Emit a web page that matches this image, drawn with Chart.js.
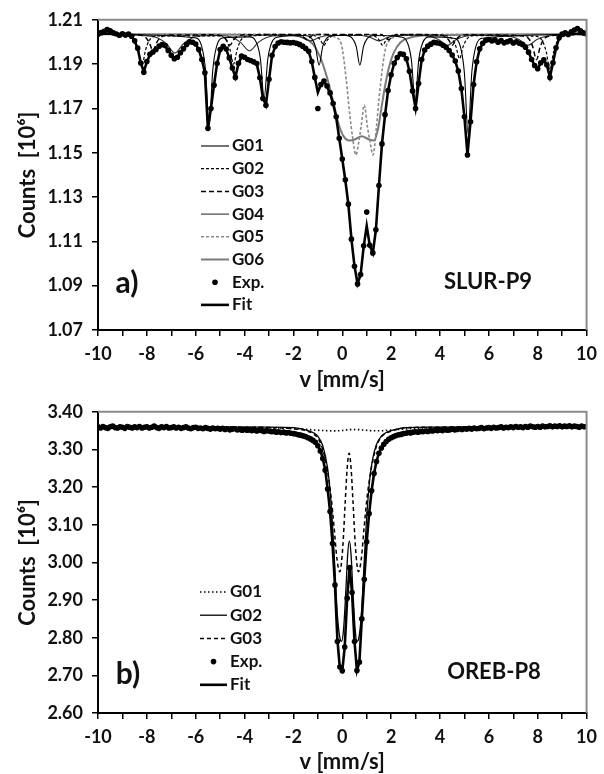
<!DOCTYPE html>
<html><head><meta charset="utf-8">
<script src="https://cdn.jsdelivr.net/npm/chart.js@4.4.0/dist/chart.umd.min.js"></script>
<style>
html,body{margin:0;padding:0;background:#fff;}
#wrap{position:relative;width:604px;height:774px;overflow:hidden;}
canvas{position:absolute;left:0;}
#ca{top:0;width:604px;height:392px;}
#cb{top:392px;width:604px;height:382px;}
</style></head><body>
<div id="wrap"><canvas id="ca" width="604" height="392"></canvas><canvas id="cb" width="604" height="382"></canvas></div>
<script>
// ---------- Panel a) SLUR-P9 ----------
const aVel = [-10,-9.875,-9.75,-9.625,-9.5,-9.375,-9.25,-9.125,
-9,-8.875,-8.75,-8.625,-8.5,-8.375,-8.25,-8.125,
-8,-7.875,-7.75,-7.625,-7.5,-7.375,-7.25,-7.125,
-7,-6.875,-6.75,-6.625,-6.5,-6.375,-6.25,-6.125,
-6,-5.875,-5.75,-5.625,-5.5,-5.375,-5.25,-5.125,
-5,-4.875,-4.75,-4.625,-4.5,-4.375,-4.25,-4.125,
-4,-3.875,-3.75,-3.625,-3.5,-3.375,-3.25,-3.125,
-3,-2.875,-2.75,-2.625,-2.5,-2.375,-2.25,-2.125,
-2,-1.875,-1.75,-1.625,-1.5,-1.375,-1.25,-1.125,
-1,-0.875,-0.75,-0.625,-0.5,-0.375,-0.25,-0.125,
0,0.125,0.25,0.375,0.5,0.625,0.75,0.875,
1,1.125,1.25,1.375,1.5,1.625,1.75,1.875,
2,2.125,2.25,2.375,2.5,2.625,2.75,2.875,
3,3.125,3.25,3.375,3.5,3.625,3.75,3.875,
4,4.125,4.25,4.375,4.5,4.625,4.75,4.875,
5,5.125,5.25,5.375,5.5,5.625,5.75,5.875,
6,6.125,6.25,6.375,6.5,6.625,6.75,6.875,
7,7.125,7.25,7.375,7.5,7.625,7.75,7.875,
8,8.125,8.25,8.375,8.5,8.625,8.75,8.875,
9,9.125,9.25,9.375,9.5,9.625,9.75,9.875,
10];
const aExp = [1.2035,1.2042,1.2048,1.2056,1.2050,1.2041,1.2036,1.2030,
1.2037,1.2031,1.2036,1.2026,1.2005,1.1972,1.1905,1.1863,
1.1912,1.1944,1.1955,1.1966,1.1981,1.1988,1.1984,1.1962,
1.1940,1.1924,1.1931,1.1951,1.1969,1.1989,1.2001,1.1999,
1.1991,1.1966,1.1921,1.1861,1.1610,1.1700,1.1805,1.1903,
1.1966,1.1980,1.1968,1.1928,1.1882,1.1840,1.1904,1.1936,
1.1931,1.1921,1.1916,1.1910,1.1903,1.1838,1.1745,1.1714,
1.1832,1.1940,1.1979,1.1995,1.2001,1.1999,1.1998,1.1996,
1.1997,1.1994,1.1989,1.1981,1.1971,1.1958,1.1912,1.1840,
1.1700,1.1808,1.1824,1.1801,1.1770,1.1722,1.1662,1.1565,
1.1472,1.1378,1.1268,1.1110,1.0988,1.0908,1.0950,1.1080,
1.1232,1.1082,1.1048,1.1152,1.1352,1.1540,1.1672,1.1781,
1.1852,1.1904,1.1930,1.1946,1.1944,1.1924,1.1868,1.1779,
1.1700,1.1812,1.1921,1.1964,1.1981,1.1990,1.1998,1.1996,
1.1993,1.1985,1.1976,1.1961,1.1941,1.1914,1.1869,1.1790,
1.1662,1.1490,1.1640,1.1808,1.1911,1.1969,1.1994,1.2008,
1.2011,1.2004,1.2010,1.1999,1.2006,1.1996,1.2001,1.2006,
1.1995,1.2001,1.1994,1.1989,1.1976,1.1954,1.1921,1.1894,
1.1879,1.1906,1.1919,1.1896,1.1840,1.1906,1.1974,1.2019,
1.2036,1.2041,1.2034,1.2046,1.2054,1.2061,1.2050,1.2041,
1.2036];
const aFit = [1.2035,1.2036,1.2037,1.2038,1.2037,1.2036,1.2035,1.2034,
1.2034,1.2033,1.2032,1.2024,1.2004,1.1970,1.1905,1.1866,
1.1910,1.1942,1.1956,1.1967,1.1979,1.1985,1.1980,1.1962,
1.1942,1.1927,1.1932,1.1951,1.1970,1.1987,1.1997,1.1998,
1.1990,1.1966,1.1922,1.1862,1.1608,1.1702,1.1806,1.1902,
1.1963,1.1978,1.1966,1.1928,1.1882,1.1842,1.1902,1.1932,
1.1930,1.1922,1.1915,1.1909,1.1900,1.1840,1.1748,1.1716,
1.1830,1.1938,1.1978,1.1994,1.1999,1.1999,1.1998,1.1997,
1.1996,1.1994,1.1989,1.1981,1.1970,1.1956,1.1912,1.1840,
1.1772,1.1808,1.1822,1.1800,1.1768,1.1722,1.1660,1.1566,
1.1472,1.1376,1.1266,1.1110,1.0988,1.0910,1.0950,1.1075,
1.1170,1.1082,1.1048,1.1150,1.1350,1.1540,1.1670,1.1780,
1.1852,1.1903,1.1930,1.1944,1.1943,1.1924,1.1868,1.1780,
1.1702,1.1812,1.1920,1.1963,1.1980,1.1990,1.1996,1.1996,
1.1993,1.1985,1.1975,1.1960,1.1940,1.1913,1.1868,1.1790,
1.1662,1.1492,1.1640,1.1808,1.1910,1.1968,1.1993,1.2004,
1.2006,1.2006,1.2005,1.2004,1.2003,1.2002,1.2001,1.2000,
1.1999,1.1998,1.1995,1.1989,1.1976,1.1954,1.1922,1.1895,
1.1880,1.1905,1.1918,1.1895,1.1842,1.1905,1.1973,1.2016,
1.2030,1.2034,1.2035,1.2036,1.2037,1.2037,1.2036,1.2035,
1.2035];
const aG01v = [-10,-6.05,-5.75,-5.6,-5.45,-5.3,-5.15,-4.85,-3.8,-3.5,-3.35,-3.2,-3.05,-2.9,-2.6,-1.55,-1.25,-1.1,-0.95,-0.8,-0.65,-0.35,0.12,0.42,0.57,0.72,0.87,1.02,1.32,2.38,2.68,2.83,2.98,3.13,3.28,3.58,4.55,4.85,5.0,5.15,5.3,5.45,5.75,10];
const aG01c = [1.2035,1.2019,1.1978,1.1875,1.1625,1.1875,1.1978,1.2019,1.2023,1.1994,1.1922,1.1745,1.1922,1.1994,1.2023,1.2029,1.2015,1.1980,1.1895,1.1980,1.2015,1.2029,1.2029,1.2015,1.1980,1.1895,1.1980,1.2015,1.2029,1.2023,1.1993,1.1918,1.1735,1.1918,1.1993,1.2023,1.2017,1.1972,1.1859,1.1585,1.1859,1.1972,1.2017,1.2035];
const aG02v = [-10,-8.8,-8.5,-8.35,-8.2,-8.05,-7.9,-7.6,-5.05,-4.75,-4.6,-4.45,-4.3,-4.15,-3.85,-1.35,-1.05,-0.9,-0.75,-0.6,-0.45,-0.15,1.05,1.35,1.5,1.65,1.8,1.95,2.25,4.2,4.5,4.65,4.8,4.95,5.1,5.4,7.9,8.2,8.35,8.5,8.65,8.8,9.1,10];
const aG02c = [1.2035,1.2027,1.2007,1.1965,1.1895,1.1965,1.2007,1.2027,1.2027,1.2008,1.1967,1.1900,1.1967,1.2008,1.2027,1.2032,1.2025,1.2010,1.1985,1.2010,1.2025,1.2032,1.2032,1.2025,1.2010,1.1985,1.2010,1.2025,1.2032,1.2029,1.2013,1.1980,1.1925,1.1980,1.2013,1.2029,1.2026,1.2003,1.1955,1.1875,1.1955,1.2003,1.2026,1.2035];
const aG03v = [-10,-8.35,-8.05,-7.9,-7.75,-7.6,-7.45,-7.15,-5.2,-4.9,-4.75,-4.6,-4.45,-4.3,-4.0,-1.75,-1.6,-1.45,-1.3,-1.15,1.6,1.75,1.9,2.05,2.2,3.9,4.2,4.35,4.5,4.65,4.8,5.1,7.35,7.65,7.8,7.95,8.1,8.25,8.55,10];
const aG03c = [1.2035,1.2031,1.2020,1.1997,1.1960,1.1997,1.2020,1.2031,1.2032,1.2025,1.2010,1.1985,1.2010,1.2025,1.2032,1.2034,1.2023,1.2010,1.2023,1.2034,1.2034,1.2023,1.2010,1.2023,1.2034,1.2032,1.2025,1.2010,1.1985,1.2010,1.2025,1.2032,1.2028,1.2012,1.1977,1.1920,1.1977,1.2012,1.2028,1.2035];
const aG04v = [-10,-8.05,-7.55,-7.2,-6.85,-6.5,-6.15,-5.65,-5.0,-4.5,-4.15,-3.8,-3.45,-3.1,-2.6,-2.0,-1.65,-1.3,-0.95,-0.6,0.8,1.15,1.5,1.85,2.2,3.1,3.6,3.95,4.3,4.65,5.0,5.5,6.4,6.9,7.25,7.6,7.95,8.3,8.8,10];
const aG04c = [1.2035,1.2028,1.2018,1.1992,1.1950,1.1992,1.2018,1.2028,1.2029,1.2020,1.1997,1.1960,1.1997,1.2020,1.2029,1.2029,1.2020,1.2005,1.2020,1.2029,1.2029,1.2020,1.2005,1.2020,1.2029,1.2031,1.2025,1.2010,1.1985,1.2010,1.2025,1.2031,1.2031,1.2025,1.2010,1.1985,1.2010,1.2025,1.2031,1.2035];
const aG05v = [-10,-0.6,-0.3,-0.04,0.16,0.3,0.43,0.56,0.67,0.77,0.9,1.03,1.14,1.26,1.4,1.5,1.64,1.77,1.91,2.2,2.6,10];
const aG05c = [1.2035,1.2033,1.2022,1.1990,1.1832,1.1680,1.1563,1.1490,1.1545,1.1617,1.1715,1.1617,1.1545,1.1490,1.1617,1.1740,1.1880,1.1970,1.2005,1.2025,1.2033,1.2035];
const aG06v = [-10,-2.0,-1.5,-1.2,-0.9,-0.6,-0.35,-0.15,0.05,0.3,0.55,0.8,1.05,1.3,1.45,1.6,1.75,1.9,2.1,2.4,2.8,3.5,10];
const aG06c = [1.2035,1.2030,1.2015,1.1990,1.1930,1.1830,1.1720,1.1630,1.1575,1.1555,1.1562,1.1575,1.1562,1.1555,1.1600,1.1700,1.1800,1.1880,1.1950,1.2000,1.2020,1.2030,1.2035];
const aYTicks = {min: 1.07, max: 1.21, step: 0.02};
const aLegend = ['G01','G02','G03','G04','G05','G06','Exp.','Fit'];

// ---------- Panel b) OREB-P8 ----------
const bVel = [-10,-9.9,-9.8,-9.7,-9.6,-9.5,-9.4,-9.3,-9.2,-9.1,
-9,-8.9,-8.8,-8.7,-8.6,-8.5,-8.4,-8.3,-8.2,-8.1,
-8,-7.9,-7.8,-7.7,-7.6,-7.5,-7.4,-7.3,-7.2,-7.1,
-7,-6.9,-6.8,-6.7,-6.6,-6.5,-6.4,-6.3,-6.2,-6.1,
-6,-5.9,-5.8,-5.7,-5.6,-5.5,-5.4,-5.3,-5.2,-5.1,
-5,-4.9,-4.8,-4.7,-4.6,-4.5,-4.4,-4.3,-4.2,-4.1,
-4,-3.9,-3.8,-3.7,-3.6,-3.5,-3.4,-3.3,-3.2,-3.1,
-3,-2.9,-2.8,-2.7,-2.6,-2.5,-2.4,-2.3,-2.2,-2.1,
-2,-1.9,-1.8,-1.7,-1.6,-1.5,-1.4,-1.3,-1.2,-1.1,
-1,-0.9,-0.8,-0.7,-0.6,-0.5,-0.4,-0.3,-0.2,-0.1,
0,0.1,0.2,0.3,0.4,0.5,0.6,0.7,0.8,0.9,
1,1.1,1.2,1.3,1.4,1.5,1.6,1.7,1.8,1.9,
2,2.1,2.2,2.3,2.4,2.5,2.6,2.7,2.8,2.9,
3,3.1,3.2,3.3,3.4,3.5,3.6,3.7,3.8,3.9,
4,4.1,4.2,4.3,4.4,4.5,4.6,4.7,4.8,4.9,
5,5.1,5.2,5.3,5.4,5.5,5.6,5.7,5.8,5.9,
6,6.1,6.2,6.3,6.4,6.5,6.6,6.7,6.8,6.9,
7,7.1,7.2,7.3,7.4,7.5,7.6,7.7,7.8,7.9,
8,8.1,8.2,8.3,8.4,8.5,8.6,8.7,8.8,8.9,
9,9.1,9.2,9.3,9.4,9.5,9.6,9.7,9.8,9.9,
10];
const bExp = [3.360,3.357,3.361,3.358,3.356,3.360,3.362,3.358,3.357,3.360,
3.359,3.356,3.361,3.359,3.357,3.360,3.358,3.361,3.357,3.359,
3.360,3.357,3.359,3.362,3.358,3.356,3.360,3.358,3.361,3.357,
3.358,3.360,3.357,3.359,3.356,3.358,3.360,3.357,3.355,3.358,
3.359,3.356,3.357,3.355,3.358,3.356,3.354,3.357,3.355,3.356,
3.354,3.356,3.353,3.355,3.352,3.354,3.355,3.352,3.353,3.351,
3.353,3.351,3.352,3.350,3.352,3.349,3.351,3.350,3.348,3.350,
3.349,3.347,3.348,3.346,3.347,3.345,3.346,3.344,3.345,3.343,
3.342,3.341,3.339,3.338,3.336,3.334,3.331,3.328,3.324,3.319,
3.310,3.296,3.276,3.245,3.195,3.135,3.050,2.940,2.790,2.722,
2.712,2.775,2.905,2.986,2.920,2.790,2.713,2.735,2.850,2.955,
3.055,3.130,3.190,3.236,3.268,3.290,3.304,3.314,3.321,3.327,
3.331,3.334,3.337,3.339,3.340,3.342,3.343,3.345,3.344,3.346,
3.347,3.346,3.348,3.347,3.349,3.348,3.350,3.349,3.351,3.350,
3.352,3.350,3.353,3.351,3.352,3.354,3.352,3.353,3.355,3.353,
3.355,3.354,3.356,3.354,3.357,3.355,3.356,3.358,3.355,3.357,
3.358,3.356,3.359,3.357,3.358,3.360,3.357,3.359,3.358,3.360,
3.358,3.361,3.359,3.360,3.358,3.361,3.359,3.362,3.360,3.359,
3.361,3.359,3.362,3.360,3.361,3.363,3.360,3.362,3.361,3.363,
3.360,3.362,3.361,3.363,3.360,3.362,3.361,3.359,3.362,3.360,
3.361];
const bFit = [3.3595,3.3595,3.3594,3.3594,3.3593,3.3593,3.3592,3.3592,3.3591,3.3591,
3.3590,3.3590,3.3589,3.3589,3.3588,3.3588,3.3587,3.3587,3.3586,3.3586,
3.3585,3.3584,3.3584,3.3583,3.3582,3.3582,3.3581,3.3580,3.3580,3.3579,
3.3578,3.3577,3.3576,3.3575,3.3574,3.3573,3.3572,3.3571,3.3570,3.3569,
3.3568,3.3566,3.3565,3.3563,3.3562,3.3560,3.3558,3.3557,3.3555,3.3553,
3.3551,3.3549,3.3547,3.3545,3.3543,3.3541,3.3539,3.3536,3.3534,3.3532,
3.3529,3.3527,3.3524,3.3521,3.3518,3.3515,3.3512,3.3509,3.3505,3.3502,
3.3498,3.3494,3.3490,3.3485,3.3480,3.3475,3.3469,3.3463,3.3456,3.3448,
3.3440,3.3430,3.3418,3.3404,3.3387,3.3366,3.3340,3.3307,3.3262,3.3200,
3.3110,3.2970,3.2770,3.2460,3.1960,3.1350,3.0500,2.9400,2.7950,2.7200,
2.7120,2.7750,2.9050,2.9860,2.9200,2.7900,2.7130,2.7350,2.8500,2.9550,
3.0550,3.1300,3.1900,3.2360,3.2680,3.2900,3.3040,3.3140,3.3210,3.3265,
3.3305,3.3337,3.3362,3.3382,3.3399,3.3413,3.3426,3.3437,3.3447,3.3456,
3.3464,3.3471,3.3478,3.3484,3.3490,3.3495,3.3500,3.3505,3.3509,3.3513,
3.3517,3.3521,3.3524,3.3527,3.3530,3.3533,3.3536,3.3539,3.3541,3.3544,
3.3546,3.3548,3.3550,3.3552,3.3554,3.3556,3.3558,3.3560,3.3562,3.3563,
3.3565,3.3566,3.3568,3.3569,3.3571,3.3572,3.3573,3.3575,3.3576,3.3577,
3.3578,3.3579,3.3580,3.3582,3.3583,3.3584,3.3585,3.3586,3.3587,3.3588,
3.3589,3.3590,3.3591,3.3592,3.3593,3.3594,3.3595,3.3596,3.3597,3.3598,
3.3599,3.3600,3.3601,3.3602,3.3603,3.3604,3.3605,3.3606,3.3607,3.3608,
3.3609];
const bG01v = [-10,-4,-3,-2,-1.4,-1.0,-0.6,-0.3,0.0,0.3,0.6,0.95,1.3,1.7,2.2,3.0,4.0,6.0,10];
const bG01c = [3.3600,3.3590,3.3575,3.3555,3.3530,3.3510,3.3498,3.3493,3.3505,3.3525,3.3528,3.3510,3.3495,3.3500,3.3525,3.3560,3.3580,3.3595,3.3605];
const bG02v = [-10,-3,-2,-1.5,-1.2,-1.0,-0.8,-0.6,-0.5,-0.4,-0.3,-0.2,-0.1,-0.03,0.05,0.15,0.22,0.29,0.36,0.43,0.53,0.6,0.68,0.78,0.88,0.98,1.08,1.18,1.38,1.6,1.8,2.1,2.6,3.6,10];
const bG02c = [3.3600,3.3595,3.3580,3.3520,3.3450,3.3350,3.3100,3.2500,3.1900,3.1000,2.9800,2.8600,2.8000,2.7900,2.8200,2.9300,3.0200,3.0570,3.0200,2.9300,2.8200,2.7900,2.8000,2.8600,2.9800,3.1000,3.1900,3.2500,3.3100,3.3350,3.3450,3.3520,3.3580,3.3595,3.3600];
const bG03v = [-10,-3.5,-2.5,-2.0,-1.5,-1.2,-1.0,-0.8,-0.6,-0.45,-0.33,-0.22,-0.1,0.02,0.12,0.2,0.28,0.36,0.44,0.54,0.66,0.78,0.89,1.01,1.16,1.36,1.56,1.76,2.06,2.56,3.5,10];
const bG03c = [3.3600,3.3590,3.3570,3.3550,3.3500,3.3420,3.3300,3.3000,3.2400,3.1700,3.0900,3.0100,2.9750,3.0400,3.1600,3.2500,3.2900,3.2500,3.1600,3.0400,2.9750,3.0100,3.0900,3.1700,3.2400,3.3000,3.3300,3.3420,3.3500,3.3570,3.3590,3.3600];
const bYTicks = {min: 2.6, max: 3.4, step: 0.1};
const bLegend = ['G01','G02','G03','Exp.','Fit'];

const xTicks = {min: -10, max: 10, step: 1};
const xTitle = 'v [mm/s]';
const yTitle = 'Counts  [10\u2076]';

// ---------- helpers ----------
const FONT = 'Lato';
function pts(xs, ys) { return xs.map((x, i) => ({x: x, y: ys[i]})); }
function comp(label, xs, ys, color, width, dash) {
  return {label, data: pts(xs, ys), borderColor: color, borderWidth: width, borderDash: dash,
    pointRadius: 0, fill: false, cubicInterpolationMode: 'monotone'};
}
function expSet(xs, ys) {
  return {label: 'Exp.', data: pts(xs, ys), showLine: false, pointRadius: 2.8,
    pointBackgroundColor: '#000', pointBorderWidth: 0, borderColor: '#000'};
}
function fitSet(xs, ys) {
  return {label: 'Fit', data: pts(xs, ys), borderColor: '#000', borderWidth: 2.6, pointRadius: 0, tension: 0};
}

const deco = {
  id: 'deco',
  afterDraw(chart, args, o) {
    const ctx = chart.ctx, ca = chart.chartArea;
    ctx.save();
    ctx.strokeStyle = '#8a8a8a'; ctx.lineWidth = 2; ctx.setLineDash([]);
    ctx.beginPath(); ctx.moveTo(ca.left, ca.top); ctx.lineTo(ca.right, ca.top); ctx.lineTo(ca.right, ca.bottom); ctx.stroke();
    ctx.font = 'bold 17px ' + FONT; ctx.textBaseline = 'middle'; ctx.textAlign = 'left';
    o.labels.forEach((lab, k) => {
      const y = o.y0 + k * o.dy;
      const ds = chart.data.datasets.find(d => d.label === lab);
      if (ds.showLine === false) {
        ctx.fillStyle = '#000'; ctx.beginPath(); ctx.arc((o.lx0 + o.lx1) / 2, y, 2.8, 0, Math.PI * 2); ctx.fill();
      } else {
        ctx.strokeStyle = ds.borderColor; ctx.lineWidth = ds.borderWidth; ctx.setLineDash(ds.borderDash || []);
        ctx.beginPath(); ctx.moveTo(o.lx0, y); ctx.lineTo(o.lx1, y); ctx.stroke();
        ctx.setLineDash([]);
      }
      ctx.fillStyle = '#111'; ctx.fillText(lab, o.tx, y);
    });
    ctx.textAlign = 'center';
    ctx.font = 'bold 30px ' + FONT; ctx.fillText(o.tag, o.tagX, o.tagY);
    ctx.font = 'bold 22px ' + FONT; ctx.fillText(o.name, o.nameX, o.nameY);
    ctx.restore();
  }
};

function options(p) {
  const tickFont = {family: FONT, weight: 'bold', size: 18};
  return {
    responsive: false, animation: false, devicePixelRatio: 1,
    layout: {padding: {top: p.top, right: 10, left: 0, bottom: 0}},
    plugins: {legend: {display: false}, tooltip: {enabled: false}, deco: p.deco},
    scales: {
      x: {type: 'linear', min: xTicks.min, max: xTicks.max,
        afterFit: s => { s.height = p.xh; },
        border: {display: true, color: '#000', width: 2},
        grid: {display: true, drawOnChartArea: false, drawTicks: true, tickLength: 6, color: '#000', lineWidth: 1.5},
        ticks: {stepSize: xTicks.step, autoSkip: false, maxRotation: 0, padding: 7, color: '#111', font: tickFont,
          callback: v => (Math.round(v) % 2 === 0 ? String(Math.round(v)) : '')},
        title: {display: true, text: xTitle, color: '#111', font: {family: FONT, weight: 'bold', size: 22}, padding: {top: 0, bottom: -1}}},
      y: {type: 'linear', min: p.yt.min, max: p.yt.max,
        afterFit: s => { s.width = 98; },
        border: {display: true, color: '#000', width: 2},
        grid: {display: true, drawOnChartArea: false, drawTicks: true, tickLength: 6, color: '#000', lineWidth: 1.5},
        ticks: {stepSize: p.yt.step, padding: 9, color: '#111', font: tickFont, callback: v => v.toFixed(2)},
        title: {display: true, text: yTitle, color: '#111', font: {family: FONT, weight: 'bold', size: 22}, padding: {top: 15, bottom: 0}}}
    }
  };
}

new Chart(document.getElementById('ca'), {
  type: 'line',
  data: {datasets: [
    expSet(aVel, aExp),
    fitSet(aVel, aFit),
    comp('G01', aG01v, aG01c, '#000', 1.1, []),
    comp('G02', aG02v, aG02c, '#000', 1.2, [3, 2]),
    comp('G03', aG03v, aG03c, '#000', 1.5, [5, 3]),
    comp('G04', aG04v, aG04c, '#333', 1.1, []),
    comp('G05', aG05v, aG05c, '#8a8a8a', 1.6, [3, 2]),
    comp('G06', aG06v, aG06c, '#7a7a7a', 2, [])
  ]},
  options: options({top: 16, xh: 62, yt: aYTicks,
    deco: {labels: aLegend, y0: 146, dy: 22.7, lx0: 201, lx1: 229, tx: 232,
      tag: 'a)', tagX: 127, tagY: 283, name: 'SLUR-P9', nameX: 488, nameY: 282}}),
  plugins: [deco]
});

new Chart(document.getElementById('cb'), {
  type: 'line',
  data: {datasets: [
    expSet(bVel, bExp),
    fitSet(bVel, bFit),
    comp('G01', bG01v, bG01c, '#000', 1.6, [1.5, 2.5]),
    comp('G02', bG02v, bG02c, '#000', 1.3, []),
    comp('G03', bG03v, bG03c, '#000', 1.5, [4, 3])
  ]},
  options: options({top: 18, xh: 61, yt: bYTicks,
    deco: {labels: bLegend, y0: 200, dy: 23.2, lx0: 200, lx1: 227, tx: 230,
      tag: 'b)', tagX: 128, tagY: 282, name: 'OREB-P8', nameX: 494, nameY: 280}}),
  plugins: [deco]
});
</script>
</body></html>
